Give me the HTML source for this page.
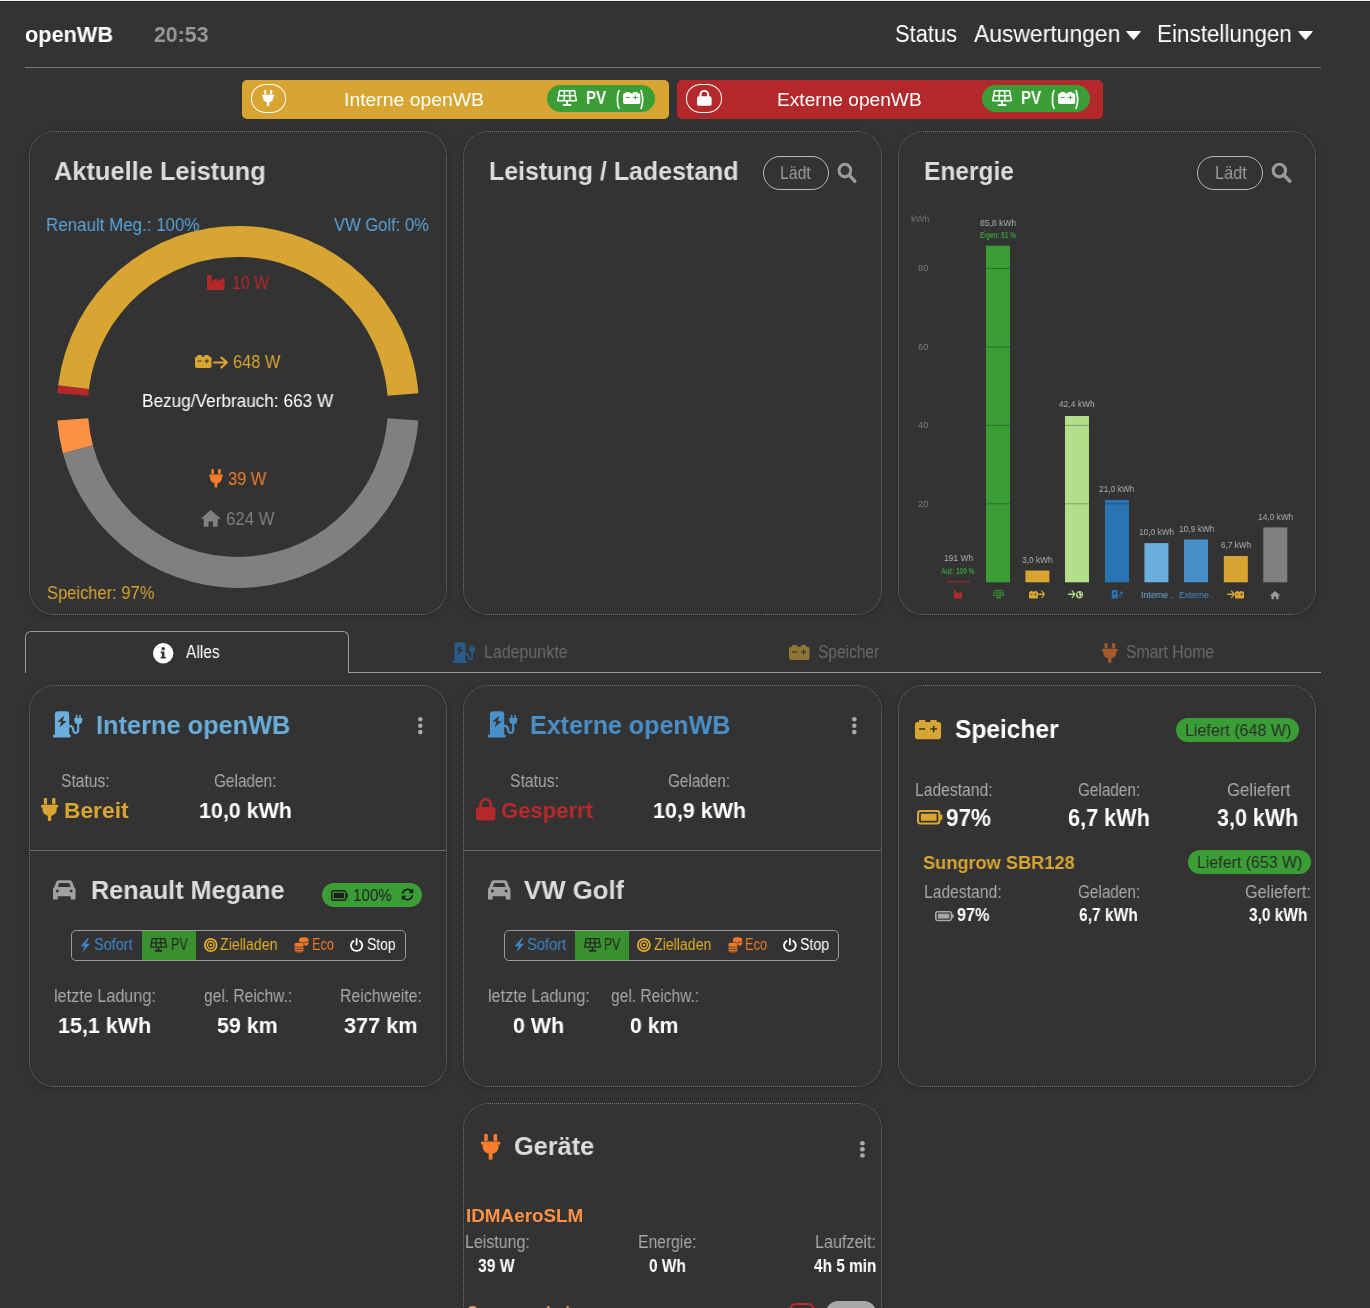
<!DOCTYPE html>
<html lang="de"><head><meta charset="utf-8"><title>openWB</title>
<style>
html,body{margin:0;padding:0;width:1370px;height:1308px;overflow:hidden;background:#333;}
body{position:relative;font-family:"Liberation Sans",sans-serif;}
.t{position:absolute;line-height:1;white-space:nowrap;transform-origin:0 0;will-change:transform;}
.b{position:absolute;box-sizing:content-box;}
.i{position:absolute;overflow:visible;}
.card{position:absolute;border:1px dotted #747474;border-radius:25px;box-shadow:0 2px 6px rgba(0,0,0,.18);}
</style></head><body>
<div class="b" style="left:0px;top:0px;width:1370px;height:1px;background:#f2f4f1"></div>
<div class="b" style="left:0px;top:1px;width:1370px;height:1px;background:#282828"></div>
<span class="t" style="left:25.0px;top:24.0px;font-size:21.80px;font-weight:bold;color:#fff;transform:scaleX(0.995);">openWB</span>
<span class="t" style="left:154.0px;top:24.0px;font-size:21.80px;font-weight:bold;color:#999;transform:scaleX(0.976);">20:53</span>
<span class="t" style="left:895.0px;top:22.0px;font-size:23.98px;color:#fff;transform:scaleX(0.912);">Status</span>
<span class="t" style="left:974.3px;top:22.0px;font-size:23.98px;color:#fff;transform:scaleX(0.955);">Auswertungen</span>
<span class="t" style="left:1157.0px;top:22.0px;font-size:23.98px;color:#fff;transform:scaleX(0.937);">Einstellungen</span>
<svg class="i" style="left:1126.0px;top:30.5px;width:15.0px;height:8.8px;" viewBox="0 0 14 6.8" preserveAspectRatio="none" fill="#fff"><path d="M0.8 0 H13.2 Q14.2 0 13.5 0.8 L7.7 6.4 Q7 7 6.3 6.4 L0.5 0.8 Q-0.2 0 0.8 0 Z"/></svg>
<svg class="i" style="left:1298.0px;top:30.5px;width:15.0px;height:8.8px;" viewBox="0 0 14 6.8" preserveAspectRatio="none" fill="#fff"><path d="M0.8 0 H13.2 Q14.2 0 13.5 0.8 L7.7 6.4 Q7 7 6.3 6.4 L0.5 0.8 Q-0.2 0 0.8 0 Z"/></svg>
<div class="b" style="left:25px;top:67px;width:1296px;height:1px;background:#7a7a7a"></div>
<div class="b" style="left:242px;top:80px;width:427px;height:39px;background:#d8a532;border-radius:5px"></div>
<div class="b" style="left:251px;top:84px;width:33px;height:27px;border:1px solid #fff;border-radius:15px/14px"></div>
<svg class="i" style="left:262.0px;top:90.0px;width:12.3px;height:16.0px;" viewBox="0 0 17.4 23" preserveAspectRatio="none" fill="#fff"><rect x="2.9" y="0" width="3.2" height="6.4" rx="1"/><rect x="11.3" y="0" width="3.3" height="6.4" rx="1"/><rect x="0" y="6.8" width="17.4" height="2.8" rx="1.2"/><path d="M1.5 9 H15.9 V11.2 C15.9 15.3 12.8 17.8 8.7 17.8 C4.6 17.8 1.5 15.3 1.5 11.2 Z"/><rect x="6.9" y="16" width="3.5" height="7" rx="0.9"/></svg>
<span class="t" style="left:344.0px;top:91.0px;font-size:18.60px;color:#fff;transform:scaleX(1.042);">Interne openWB</span>
<div class="b" style="left:547px;top:85px;width:108px;height:27px;background:#3a9d35;border-radius:14px"></div>
<svg class="i" style="left:557.3px;top:89.8px;width:20.1px;height:16.1px;" viewBox="0 0 20 16" preserveAspectRatio="none" fill="#fff"><g fill="none" stroke="#fff" stroke-width="1.5" stroke-linejoin="round"><path d="M2.5 0.75 H17.5 L19.25 10.6 H0.75 Z M1.6 5.7 H18.4 M7.5 0.75 L7 10.6 M12.5 0.75 L13 10.6"/></g><rect x="9.1" y="10.6" width="1.8" height="3.6"/><rect x="5.6" y="13.8" width="8.8" height="2.2" rx="1"/></svg>
<span class="t" style="left:585.5px;top:90.0px;font-size:17.44px;font-weight:bold;color:#fff;transform:scaleX(0.859);">PV</span>
<span class="t" style="left:615.5px;top:89.0px;font-size:19.62px;font-weight:bold;color:#fff;transform:scaleX(0.609);">(</span>
<svg class="i" style="left:622.7px;top:92.0px;width:17.3px;height:11.9px;" viewBox="0 0 26 19.2" preserveAspectRatio="none" fill="#fff"><path d="M4 0.2 Q4 0 4.3 0 H10 Q10.3 0 10.3 0.3 V2.1 H15.3 V0.3 Q15.3 0 15.6 0 H21.3 Q21.6 0 21.6 0.3 V2.1 H23.3 Q26 2.1 26 4.8 V16.5 Q26 19.2 23.3 19.2 H2.7 Q0 19.2 0 16.5 V4.8 Q0 2.1 2.7 2.1 H4 Z"/><rect x="4.1" y="8.2" width="6" height="1.5" fill="#3a9d35"/><rect x="15.3" y="8.2" width="6.6" height="1.5" fill="#3a9d35"/><rect x="17.85" y="5.6" width="1.5" height="6.7" fill="#3a9d35"/></svg>
<span class="t" style="left:640.0px;top:89.0px;font-size:19.62px;font-weight:bold;color:#fff;transform:scaleX(0.609);">)</span>
<div class="b" style="left:677px;top:80px;width:426px;height:39px;background:#b3292b;border-radius:5px"></div>
<div class="b" style="left:686px;top:84px;width:34px;height:27px;border:1px solid #fff;border-radius:15px/14px"></div>
<svg class="i" style="left:696.6px;top:90.0px;width:14.6px;height:15.8px;" viewBox="0 0 16 18.6" preserveAspectRatio="none" fill="#fff"><path fill="none" stroke="#fff" stroke-width="2.2" d="M3.8 9 V5.3 A4.2 4.2 0 0 1 12.2 5.3 V9"/><rect x="0" y="7.4" width="16" height="11.2" rx="2.2"/></svg>
<span class="t" style="left:777.2px;top:91.0px;font-size:18.60px;color:#fff;transform:scaleX(1.029);">Externe openWB</span>
<div class="b" style="left:982px;top:85px;width:108px;height:27px;background:#3a9d35;border-radius:14px"></div>
<svg class="i" style="left:992.3px;top:89.8px;width:20.1px;height:16.1px;" viewBox="0 0 20 16" preserveAspectRatio="none" fill="#fff"><g fill="none" stroke="#fff" stroke-width="1.5" stroke-linejoin="round"><path d="M2.5 0.75 H17.5 L19.25 10.6 H0.75 Z M1.6 5.7 H18.4 M7.5 0.75 L7 10.6 M12.5 0.75 L13 10.6"/></g><rect x="9.1" y="10.6" width="1.8" height="3.6"/><rect x="5.6" y="13.8" width="8.8" height="2.2" rx="1"/></svg>
<span class="t" style="left:1020.5px;top:90.0px;font-size:17.44px;font-weight:bold;color:#fff;transform:scaleX(0.859);">PV</span>
<span class="t" style="left:1050.5px;top:89.0px;font-size:19.62px;font-weight:bold;color:#fff;transform:scaleX(0.609);">(</span>
<svg class="i" style="left:1057.7px;top:92.0px;width:17.3px;height:11.9px;" viewBox="0 0 26 19.2" preserveAspectRatio="none" fill="#fff"><path d="M4 0.2 Q4 0 4.3 0 H10 Q10.3 0 10.3 0.3 V2.1 H15.3 V0.3 Q15.3 0 15.6 0 H21.3 Q21.6 0 21.6 0.3 V2.1 H23.3 Q26 2.1 26 4.8 V16.5 Q26 19.2 23.3 19.2 H2.7 Q0 19.2 0 16.5 V4.8 Q0 2.1 2.7 2.1 H4 Z"/><rect x="4.1" y="8.2" width="6" height="1.5" fill="#3a9d35"/><rect x="15.3" y="8.2" width="6.6" height="1.5" fill="#3a9d35"/><rect x="17.85" y="5.6" width="1.5" height="6.7" fill="#3a9d35"/></svg>
<span class="t" style="left:1075.0px;top:89.0px;font-size:19.62px;font-weight:bold;color:#fff;transform:scaleX(0.609);">)</span>
<div class="card" style="left:29px;top:131px;width:416px;height:482px"></div>
<div class="card" style="left:463px;top:131px;width:417px;height:482px"></div>
<div class="card" style="left:898px;top:131px;width:416px;height:482px"></div>
<span class="t" style="left:54.0px;top:158.0px;font-size:26.45px;font-weight:bold;color:#dcdcdc;transform:scaleX(0.961);">Aktuelle Leistung</span>
<svg class="i" style="left:0;top:0;width:1370px;height:700px" viewBox="0 0 1370 700"><path fill="#b3292b" d="M57.41 393.33 A181 181 0 0 1 58.21 385.16 L88.99 388.88 A150 150 0 0 0 88.32 395.65 Z"/><path fill="#d8a532" d="M58.21 385.16 A181 181 0 0 1 418.39 393.33 L387.48 395.65 A150 150 0 0 0 88.99 388.88 Z"/><path fill="#808080" d="M418.39 420.47 A181 181 0 0 1 62.90 453.14 L92.88 445.22 A150 150 0 0 0 387.48 418.15 Z"/><path fill="#fd9144" d="M62.90 453.14 A181 181 0 0 1 57.41 420.47 L88.32 418.15 A150 150 0 0 0 92.88 445.22 Z"/></svg>
<span class="t" style="left:46.0px;top:217.0px;font-size:17.88px;color:#5aa2d8;transform:scaleX(0.948);">Renault Meg.: 100%</span>
<span class="t" style="left:334.0px;top:217.0px;font-size:17.88px;color:#5aa2d8;transform:scaleX(0.928);">VW Golf: 0%</span>
<svg class="i" style="left:207.4px;top:274.9px;width:17.5px;height:15.1px;" viewBox="0 0 16.8 15" preserveAspectRatio="none" fill="#b3292b"><path d="M0.6 0 H4.4 V6.2 L9.6 3.1 V6.2 L16.8 2.6 V14.2 Q16.8 15 16 15 H1 Q0 15 0 14 V0.6 Q0 0 0.6 0 Z"/></svg>
<span class="t" style="left:232.0px;top:275.0px;font-size:17.44px;color:#b3292b;transform:scaleX(0.908);">10 W</span>
<svg class="i" style="left:195.0px;top:355.0px;width:16.5px;height:13.0px;" viewBox="0 0 26 19.2" preserveAspectRatio="none" fill="#d8a532"><path d="M4 0.2 Q4 0 4.3 0 H10 Q10.3 0 10.3 0.3 V2.1 H15.3 V0.3 Q15.3 0 15.6 0 H21.3 Q21.6 0 21.6 0.3 V2.1 H23.3 Q26 2.1 26 4.8 V16.5 Q26 19.2 23.3 19.2 H2.7 Q0 19.2 0 16.5 V4.8 Q0 2.1 2.7 2.1 H4 Z"/><rect x="4.1" y="8.2" width="6" height="1.5" fill="#333"/><rect x="15.3" y="8.2" width="6.6" height="1.5" fill="#333"/><rect x="17.85" y="5.6" width="1.5" height="6.7" fill="#333"/></svg>
<svg class="i" style="left:212.5px;top:355.5px;width:15.0px;height:13.0px;" viewBox="0 0 13.5 13" preserveAspectRatio="none" fill="#d8a532"><g fill="none" stroke="#d8a532" stroke-width="2" stroke-linecap="round" stroke-linejoin="round"><path d="M1 6.5 H12.5 M7.5 1.5 L12.5 6.5 L7.5 11.5"/></g></svg>
<span class="t" style="left:232.7px;top:354.0px;font-size:17.44px;color:#d8a532;transform:scaleX(0.938);">648 W</span>
<span class="t" style="left:142.4px;top:393.0px;font-size:17.44px;color:#fff;transform:scaleX(0.986);">Bezug/Verbrauch: 663 W</span>
<svg class="i" style="left:209.0px;top:469.0px;width:14.0px;height:18.5px;" viewBox="0 0 17.4 23" preserveAspectRatio="none" fill="#f57d2c"><rect x="2.9" y="0" width="3.2" height="6.4" rx="1"/><rect x="11.3" y="0" width="3.3" height="6.4" rx="1"/><rect x="0" y="6.8" width="17.4" height="2.8" rx="1.2"/><path d="M1.5 9 H15.9 V11.2 C15.9 15.3 12.8 17.8 8.7 17.8 C4.6 17.8 1.5 15.3 1.5 11.2 Z"/><rect x="6.9" y="16" width="3.5" height="7" rx="0.9"/></svg>
<span class="t" style="left:227.5px;top:471.0px;font-size:17.44px;color:#f57d2c;transform:scaleX(0.938);">39 W</span>
<svg class="i" style="left:201.0px;top:510.4px;width:19.4px;height:16.8px;" viewBox="0 0 19.4 16.8" preserveAspectRatio="none" fill="#808080"><path d="M9.7 0 L19.4 8.4 L18.3 9.6 L16.7 8.3 V16.8 H11.9 V11.6 H7.5 V16.8 H2.7 V8.3 L1.1 9.6 L0 8.4 Z"/></svg>
<span class="t" style="left:225.6px;top:511.0px;font-size:17.44px;color:#808080;transform:scaleX(0.960);">624 W</span>
<span class="t" style="left:46.5px;top:585.0px;font-size:17.44px;color:#d8a532;transform:scaleX(0.947);">Speicher: 97%</span>
<span class="t" style="left:489.4px;top:158.0px;font-size:26.45px;font-weight:bold;color:#dcdcdc;transform:scaleX(0.944);">Leistung / Ladestand</span>
<div class="b" style="left:763px;top:156px;width:64px;height:32px;border:1px solid #bbb;border-radius:17px"></div>
<span class="t" style="left:780.0px;top:165.0px;font-size:17.44px;color:#9a9a9a;transform:scaleX(0.908);">Lädt</span>
<svg class="i" style="left:837.1px;top:161.5px;width:19.3px;height:19.7px;" viewBox="0 0 19.5 18.5" preserveAspectRatio="none" fill="#9a9a9a"><circle cx="8" cy="8" r="5.9" fill="none" stroke="#9a9a9a" stroke-width="3"/><path d="M12.2 12.2 L18 18" stroke="#9a9a9a" stroke-width="3.4" stroke-linecap="round"/></svg>
<span class="t" style="left:924.0px;top:158.0px;font-size:26.45px;font-weight:bold;color:#dcdcdc;transform:scaleX(0.927);">Energie</span>
<div class="b" style="left:1197px;top:156px;width:64px;height:32px;border:1px solid #bbb;border-radius:17px"></div>
<span class="t" style="left:1214.6px;top:165.0px;font-size:17.44px;color:#9a9a9a;transform:scaleX(0.937);">Lädt</span>
<svg class="i" style="left:1271.4px;top:161.5px;width:20.4px;height:19.7px;" viewBox="0 0 19.5 18.5" preserveAspectRatio="none" fill="#9a9a9a"><circle cx="8" cy="8" r="5.9" fill="none" stroke="#9a9a9a" stroke-width="3"/><path d="M12.2 12.2 L18 18" stroke="#9a9a9a" stroke-width="3.4" stroke-linecap="round"/></svg>
<svg class="i" style="left:0;top:0;width:1370px;height:700px" viewBox="0 0 1370 700"><rect x="946" y="581.3" width="24" height="1.0" fill="#b3292b"/><rect x="986" y="245.7" width="24" height="336.6" fill="#3a9d35"/><rect x="1025.4" y="570.5" width="24" height="11.8" fill="#d8a532"/><rect x="1065" y="416.0" width="24" height="166.3" fill="#b3df8b"/><rect x="1105" y="499.9" width="24" height="82.4" fill="#2a74b3"/><rect x="1144.4" y="543.1" width="24" height="39.2" fill="#6aaedb"/><rect x="1184" y="539.5" width="24" height="42.8" fill="#4a90c8"/><rect x="1223.8" y="556.0" width="24" height="26.3" fill="#d8a532"/><rect x="1263.3" y="527.4" width="24" height="54.9" fill="#808080"/><rect x="986" y="503.3" width="24" height="1" fill="#000" fill-opacity="0.28"/><rect x="1065" y="503.3" width="24" height="1" fill="#000" fill-opacity="0.28"/><rect x="1105" y="503.3" width="24" height="1" fill="#000" fill-opacity="0.28"/><rect x="986" y="424.9" width="24" height="1" fill="#000" fill-opacity="0.28"/><rect x="1065" y="424.9" width="24" height="1" fill="#000" fill-opacity="0.28"/><rect x="986" y="346.4" width="24" height="1" fill="#000" fill-opacity="0.28"/><rect x="986" y="268.0" width="24" height="1" fill="#000" fill-opacity="0.28"/></svg>
<span class="t" style="left:917.7px;top:264.0px;font-size:9.30px;color:#7c7c7c;transform:scaleX(0.998);">80</span>
<span class="t" style="left:917.7px;top:343.0px;font-size:9.30px;color:#7c7c7c;transform:scaleX(0.998);">60</span>
<span class="t" style="left:917.7px;top:421.0px;font-size:9.30px;color:#7c7c7c;transform:scaleX(0.998);">40</span>
<span class="t" style="left:917.7px;top:500.0px;font-size:9.30px;color:#7c7c7c;transform:scaleX(0.998);">20</span>
<span class="t" style="left:911.0px;top:214.0px;font-size:9.88px;color:#747474;transform:scaleX(0.931);">kWh</span>
<span class="t" style="left:943.8px;top:553.0px;font-size:9.88px;color:#b0b0b0;transform:scaleX(0.858);">191 Wh</span>
<span class="t" style="left:979.8px;top:218.0px;font-size:9.88px;color:#b0b0b0;transform:scaleX(0.864);">85,8 kWh</span>
<span class="t" style="left:1022.3px;top:555.0px;font-size:9.88px;color:#b0b0b0;transform:scaleX(0.846);">3,0 kWh</span>
<span class="t" style="left:1059.4px;top:399.0px;font-size:9.88px;color:#b0b0b0;transform:scaleX(0.853);">42,4 kWh</span>
<span class="t" style="left:1098.8px;top:484.0px;font-size:9.88px;color:#b0b0b0;transform:scaleX(0.843);">21,0 kWh</span>
<span class="t" style="left:1139.0px;top:527.0px;font-size:9.88px;color:#b0b0b0;transform:scaleX(0.838);">10,0 kWh</span>
<span class="t" style="left:1178.5px;top:524.0px;font-size:9.88px;color:#b0b0b0;transform:scaleX(0.845);">10,9 kWh</span>
<span class="t" style="left:1220.7px;top:540.0px;font-size:9.88px;color:#b0b0b0;transform:scaleX(0.833);">6,7 kWh</span>
<span class="t" style="left:1257.8px;top:512.0px;font-size:9.88px;color:#b0b0b0;transform:scaleX(0.843);">14,0 kWh</span>
<span class="t" style="left:980.0px;top:231.0px;font-size:8.43px;font-weight:bold;color:#3a9d35;transform:scaleX(0.761);">Eigen: 51 %</span>
<span class="t" style="left:941.4px;top:567.0px;font-size:8.43px;font-weight:bold;color:#3a9d35;transform:scaleX(0.780);">Aut: 100 %</span>
<svg class="i" style="left:954.0px;top:590.3px;width:8.0px;height:8.5px;" viewBox="0 0 16.8 15" preserveAspectRatio="none" fill="#b3292b"><path d="M0.6 0 H4.4 V6.2 L9.6 3.1 V6.2 L16.8 2.6 V14.2 Q16.8 15 16 15 H1 Q0 15 0 14 V0.6 Q0 0 0.6 0 Z"/></svg>
<svg class="i" style="left:993.0px;top:590.3px;width:11.0px;height:8.5px;" viewBox="0 0 20 16" preserveAspectRatio="none" fill="#3a9d35"><g fill="none" stroke="#3a9d35" stroke-width="1.5" stroke-linejoin="round"><path d="M2.5 0.75 H17.5 L19.25 10.6 H0.75 Z M1.6 5.7 H18.4 M7.5 0.75 L7 10.6 M12.5 0.75 L13 10.6"/></g><rect x="9.1" y="10.6" width="1.8" height="3.6"/><rect x="5.6" y="13.8" width="8.8" height="2.2" rx="1"/></svg>
<svg class="i" style="left:1029.0px;top:591.0px;width:9.0px;height:7.5px;" viewBox="0 0 26 19.2" preserveAspectRatio="none" fill="#d8a532"><path d="M4 0.2 Q4 0 4.3 0 H10 Q10.3 0 10.3 0.3 V2.1 H15.3 V0.3 Q15.3 0 15.6 0 H21.3 Q21.6 0 21.6 0.3 V2.1 H23.3 Q26 2.1 26 4.8 V16.5 Q26 19.2 23.3 19.2 H2.7 Q0 19.2 0 16.5 V4.8 Q0 2.1 2.7 2.1 H4 Z"/><rect x="4.1" y="8.2" width="6" height="1.5" fill="#333"/><rect x="15.3" y="8.2" width="6.6" height="1.5" fill="#333"/><rect x="17.85" y="5.6" width="1.5" height="6.7" fill="#333"/></svg>
<svg class="i" style="left:1038.0px;top:590.3px;width:7.0px;height:8.5px;" viewBox="0 0 13.5 13" preserveAspectRatio="none" fill="#d8a532"><g fill="none" stroke="#d8a532" stroke-width="2" stroke-linecap="round" stroke-linejoin="round"><path d="M1 6.5 H12.5 M7.5 1.5 L12.5 6.5 L7.5 11.5"/></g></svg>
<svg class="i" style="left:1068.0px;top:590.3px;width:7.5px;height:8.5px;" viewBox="0 0 13.5 13" preserveAspectRatio="none" fill="#b3df8b"><g fill="none" stroke="#b3df8b" stroke-width="2" stroke-linecap="round" stroke-linejoin="round"><path d="M1 6.5 H12.5 M7.5 1.5 L12.5 6.5 L7.5 11.5"/></g></svg>
<svg class="i" style="left:1076.0px;top:590.8px;width:7.0px;height:7.5px;" viewBox="0 0 12 12" preserveAspectRatio="none" fill="#b3df8b"><circle cx="6" cy="6" r="6"/><path fill="#333" d="M3 2.5 Q5 2 5.5 4 Q4.5 5.5 6 6.5 Q7 8 5.5 10.5 Q3.5 9 3.5 7 Q2 6 2.2 4 Z M8 1.5 Q9.8 2.5 10.5 4.5 Q9 5 8.5 4 Z M8.3 7.5 Q10 7 10.6 8 Q9.8 10 8.3 10.5 Z"/></svg>
<svg class="i" style="left:1111.0px;top:590.3px;width:12.0px;height:8.5px;" viewBox="0 0 29.4 25.5" preserveAspectRatio="none" fill="#2a74b3"><rect x="0" y="22.6" width="17.7" height="2.9" rx="1.2"/><path d="M1.9 3.3 Q1.9 0.2 5 0.2 H13.1 Q16.2 0.2 16.2 3.3 V23.5 H1.9 Z"/><path fill="#333" d="M11.2 4.6 L4.3 10.4 H8.4 L6.6 15.6 L13.9 9.6 H9.7 Z"/><path fill="none" stroke="#2a74b3" stroke-width="2.1" d="M16 14.2 C19 14.2 20.3 15.8 20.3 18.5 C20.3 21.8 25.2 22 25.2 18.5 V11.8"/><path d="M21.2 6.8 H29.4 V8.6 C29.4 11 27.6 12.8 25.3 12.8 C23 12.8 21.2 11 21.2 8.6 Z"/><rect x="22.8" y="3.6" width="1.6" height="4" rx=".7"/><rect x="26.2" y="3.6" width="1.6" height="4" rx=".7"/></svg>
<span class="t" style="left:1140.5px;top:591.0px;font-size:9.01px;color:#6aaedb;transform:scaleX(0.965);">Interne .</span>
<span class="t" style="left:1178.5px;top:591.0px;font-size:9.01px;color:#4a90c8;transform:scaleX(0.957);">Externe .</span>
<svg class="i" style="left:1227.0px;top:590.3px;width:8.0px;height:8.5px;" viewBox="0 0 13.5 13" preserveAspectRatio="none" fill="#d8a532"><g fill="none" stroke="#d8a532" stroke-width="2" stroke-linecap="round" stroke-linejoin="round"><path d="M1 6.5 H12.5 M7.5 1.5 L12.5 6.5 L7.5 11.5"/></g></svg>
<svg class="i" style="left:1235.0px;top:591.0px;width:9.0px;height:7.5px;" viewBox="0 0 26 19.2" preserveAspectRatio="none" fill="#d8a532"><path d="M4 0.2 Q4 0 4.3 0 H10 Q10.3 0 10.3 0.3 V2.1 H15.3 V0.3 Q15.3 0 15.6 0 H21.3 Q21.6 0 21.6 0.3 V2.1 H23.3 Q26 2.1 26 4.8 V16.5 Q26 19.2 23.3 19.2 H2.7 Q0 19.2 0 16.5 V4.8 Q0 2.1 2.7 2.1 H4 Z"/><rect x="4.1" y="8.2" width="6" height="1.5" fill="#333"/><rect x="15.3" y="8.2" width="6.6" height="1.5" fill="#333"/><rect x="17.85" y="5.6" width="1.5" height="6.7" fill="#333"/></svg>
<svg class="i" style="left:1270.0px;top:590.5px;width:10.0px;height:8.3px;" viewBox="0 0 19.4 16.8" preserveAspectRatio="none" fill="#999"><path d="M9.7 0 L19.4 8.4 L18.3 9.6 L16.7 8.3 V16.8 H11.9 V11.6 H7.5 V16.8 H2.7 V8.3 L1.1 9.6 L0 8.4 Z"/></svg>
<div class="b" style="left:25px;top:631px;width:322px;height:41px;border:1px solid #999;border-bottom:none;border-radius:6px 6px 0 0"></div>
<div class="b" style="left:348px;top:672px;width:973px;height:1px;background:#999"></div>
<svg class="i" style="left:153.0px;top:642.5px;width:20.4px;height:20.4px;" viewBox="0 0 20 20" preserveAspectRatio="none" fill="#fff"><circle cx="10" cy="10" r="10"/><circle cx="10" cy="5.6" r="1.7" fill="#333"/><path fill="#333" d="M7.6 8.4 H11.2 V13.4 H12.5 V15.2 H7.5 V13.4 H8.8 V10.2 H7.6 Z"/></svg>
<span class="t" style="left:185.7px;top:643.0px;font-size:18.60px;color:#fff;transform:scaleX(0.835);">Alles</span>
<svg class="i" style="left:452.6px;top:641.7px;width:22.4px;height:21.0px;" viewBox="0 0 29.4 25.5" preserveAspectRatio="none" fill="#2b5b88"><rect x="0" y="22.6" width="17.7" height="2.9" rx="1.2"/><path d="M1.9 3.3 Q1.9 0.2 5 0.2 H13.1 Q16.2 0.2 16.2 3.3 V23.5 H1.9 Z"/><path fill="#333" d="M11.2 4.6 L4.3 10.4 H8.4 L6.6 15.6 L13.9 9.6 H9.7 Z"/><path fill="none" stroke="#2b5b88" stroke-width="2.1" d="M16 14.2 C19 14.2 20.3 15.8 20.3 18.5 C20.3 21.8 25.2 22 25.2 18.5 V11.8"/><path d="M21.2 6.8 H29.4 V8.6 C29.4 11 27.6 12.8 25.3 12.8 C23 12.8 21.2 11 21.2 8.6 Z"/><rect x="22.8" y="3.6" width="1.6" height="4" rx=".7"/><rect x="26.2" y="3.6" width="1.6" height="4" rx=".7"/></svg>
<span class="t" style="left:483.8px;top:643.0px;font-size:18.02px;color:#6a6a6a;transform:scaleX(0.887);">Ladepunkte</span>
<svg class="i" style="left:789.3px;top:645.0px;width:20.5px;height:15.0px;" viewBox="0 0 26 19.2" preserveAspectRatio="none" fill="#8f7434"><path d="M4 0.2 Q4 0 4.3 0 H10 Q10.3 0 10.3 0.3 V2.1 H15.3 V0.3 Q15.3 0 15.6 0 H21.3 Q21.6 0 21.6 0.3 V2.1 H23.3 Q26 2.1 26 4.8 V16.5 Q26 19.2 23.3 19.2 H2.7 Q0 19.2 0 16.5 V4.8 Q0 2.1 2.7 2.1 H4 Z"/><rect x="4.1" y="8.2" width="6" height="1.5" fill="#333"/><rect x="15.3" y="8.2" width="6.6" height="1.5" fill="#333"/><rect x="17.85" y="5.6" width="1.5" height="6.7" fill="#333"/></svg>
<span class="t" style="left:817.7px;top:643.0px;font-size:18.02px;color:#6a6a6a;transform:scaleX(0.862);">Speicher</span>
<svg class="i" style="left:1101.9px;top:642.6px;width:15.6px;height:19.8px;" viewBox="0 0 17.4 23" preserveAspectRatio="none" fill="#a65a2b"><rect x="2.9" y="0" width="3.2" height="6.4" rx="1"/><rect x="11.3" y="0" width="3.3" height="6.4" rx="1"/><rect x="0" y="6.8" width="17.4" height="2.8" rx="1.2"/><path d="M1.5 9 H15.9 V11.2 C15.9 15.3 12.8 17.8 8.7 17.8 C4.6 17.8 1.5 15.3 1.5 11.2 Z"/><rect x="6.9" y="16" width="3.5" height="7" rx="0.9"/></svg>
<span class="t" style="left:1125.6px;top:643.0px;font-size:18.02px;color:#6a6a6a;transform:scaleX(0.873);">Smart Home</span>
<div class="card" style="left:29px;top:685px;width:416px;height:400px"></div>
<div class="card" style="left:463px;top:685px;width:417px;height:400px"></div>
<div class="card" style="left:898px;top:685px;width:416px;height:400px"></div>
<div class="card" style="left:463px;top:1103px;width:417px;height:296px"></div>
<svg class="i" style="left:53.2px;top:711.0px;width:29.4px;height:26.6px;" viewBox="0 0 29.4 25.5" preserveAspectRatio="none" fill="#6aaedb"><rect x="0" y="22.6" width="17.7" height="2.9" rx="1.2"/><path d="M1.9 3.3 Q1.9 0.2 5 0.2 H13.1 Q16.2 0.2 16.2 3.3 V23.5 H1.9 Z"/><path fill="#333" d="M11.2 4.6 L4.3 10.4 H8.4 L6.6 15.6 L13.9 9.6 H9.7 Z"/><path fill="none" stroke="#6aaedb" stroke-width="2.1" d="M16 14.2 C19 14.2 20.3 15.8 20.3 18.5 C20.3 21.8 25.2 22 25.2 18.5 V11.8"/><path d="M21.2 6.8 H29.4 V8.6 C29.4 11 27.6 12.8 25.3 12.8 C23 12.8 21.2 11 21.2 8.6 Z"/><rect x="22.8" y="3.6" width="1.6" height="4" rx=".7"/><rect x="26.2" y="3.6" width="1.6" height="4" rx=".7"/></svg>
<span class="t" style="left:95.5px;top:712.0px;font-size:26.45px;font-weight:bold;color:#6aaedb;transform:scaleX(0.959);">Interne openWB</span>
<svg class="i" style="left:417.7px;top:717.2px;width:4.6px;height:17.4px;" viewBox="0 0 4.6 17.4" preserveAspectRatio="none" fill="#aaa"><circle cx="2.3" cy="2.3" r="2.3"/><circle cx="2.3" cy="8.7" r="2.3"/><circle cx="2.3" cy="15.1" r="2.3"/></svg>
<span class="t" style="left:60.8px;top:773.0px;font-size:17.44px;color:#a8a8a8;transform:scaleX(0.894);">Status:</span>
<span class="t" style="left:214.0px;top:773.0px;font-size:17.44px;color:#a8a8a8;transform:scaleX(0.881);">Geladen:</span>
<svg class="i" style="left:41.3px;top:797.9px;width:17.2px;height:23.0px;" viewBox="0 0 17.4 23" preserveAspectRatio="none" fill="#d8a532"><rect x="2.9" y="0" width="3.2" height="6.4" rx="1"/><rect x="11.3" y="0" width="3.3" height="6.4" rx="1"/><rect x="0" y="6.8" width="17.4" height="2.8" rx="1.2"/><path d="M1.5 9 H15.9 V11.2 C15.9 15.3 12.8 17.8 8.7 17.8 C4.6 17.8 1.5 15.3 1.5 11.2 Z"/><rect x="6.9" y="16" width="3.5" height="7" rx="0.9"/></svg>
<span class="t" style="left:64.2px;top:800.0px;font-size:22.38px;font-weight:bold;color:#d8a532;transform:scaleX(1.018);">Bereit</span>
<span class="t" style="left:198.7px;top:800.0px;font-size:22.38px;font-weight:bold;color:#fff;transform:scaleX(0.958);">10,0 kWh</span>
<div class="b" style="left:29px;top:850px;width:417px;height:1px;background:#6a6a6a"></div>
<svg class="i" style="left:53.3px;top:880.0px;width:22.5px;height:19.6px;" viewBox="0 0 22.5 19.6" preserveAspectRatio="none" fill="#a0a0a0"><path fill-rule="evenodd" d="M5.6 0.2 H16.9 Q18.6 0.2 19.3 1.9 L21.1 6.9 Q22.5 7.8 22.5 9.6 V19.4 H17.8 V16.3 H4.7 V19.4 H0 V9.6 Q0 7.8 1.4 6.9 L3.2 1.9 Q3.9 0.2 5.6 0.2 Z M6.3 2.9 L4.7 7.1 H17.8 L16.2 2.9 Z"/><circle cx="4.4" cy="11" r="1.5" fill="#333"/><circle cx="18.1" cy="11" r="1.5" fill="#333"/></svg>
<span class="t" style="left:91.0px;top:877.0px;font-size:26.45px;font-weight:bold;color:#dcdcdc;transform:scaleX(0.955);">Renault Megane</span>
<div class="b" style="left:321.8px;top:883.4px;width:100.7px;height:23.3px;background:#3a9d35;border-radius:12px"></div>
<svg class="i" style="left:330.5px;top:889.5px;width:16.9px;height:11.0px;" viewBox="0 0 23.4 14" preserveAspectRatio="none" fill="#1f1f1f"><rect x="1" y="1" width="19.6" height="12" rx="2.2" fill="none" stroke="#1f1f1f" stroke-width="2"/><rect x="3.6" y="3.6" width="14.4" height="6.8" fill="#1f1f1f"/><rect x="21" y="4.3" width="2.4" height="5.4" rx="0.8"/></svg>
<span class="t" style="left:353.0px;top:887.0px;font-size:17.01px;color:#222;transform:scaleX(0.891);">100%</span>
<svg class="i" style="left:401.0px;top:888.0px;width:13.0px;height:13.0px;" viewBox="0 0 14 14" preserveAspectRatio="none" fill="#1f1f1f"><g fill="none" stroke="#1f1f1f" stroke-width="1.9"><path d="M1.8 6.2 A5.3 5.3 0 0 1 11.3 3.6"/><path d="M12.2 7.8 A5.3 5.3 0 0 1 2.7 10.4"/></g><path d="M13.2 0.6 V5.6 H8.2 Z"/><path d="M0.8 13.4 V8.4 H5.8 Z"/></svg>
<div class="b" style="left:71px;top:930px;width:333px;height:29px;border:1px solid #9a9a9a;border-radius:5px;overflow:hidden"></div>
<div class="b" style="left:142.2px;top:931px;width:53.400000000000006px;height:29px;background:#39902f"></div>
<svg class="i" style="left:80.2px;top:937.7px;width:10.4px;height:14.2px;" viewBox="0 0 11 16" preserveAspectRatio="none" fill="#3b86c8"><path d="M8.3 0 L0.6 9.3 H4.9 L2.6 16 L10.5 6.6 H6.2 L9.6 0 Z"/></svg>
<span class="t" style="left:94.0px;top:937.0px;font-size:15.84px;color:#3b86c8;transform:scaleX(0.917);">Sofort</span>
<svg class="i" style="left:150.0px;top:938.2px;width:17.1px;height:13.7px;" viewBox="0 0 20 16" preserveAspectRatio="none" fill="#262626"><g fill="none" stroke="#262626" stroke-width="1.5" stroke-linejoin="round"><path d="M2.5 0.75 H17.5 L19.25 10.6 H0.75 Z M1.6 5.7 H18.4 M7.5 0.75 L7 10.6 M12.5 0.75 L13 10.6"/></g><rect x="9.1" y="10.6" width="1.8" height="3.6"/><rect x="5.6" y="13.8" width="8.8" height="2.2" rx="1"/></svg>
<span class="t" style="left:170.5px;top:937.0px;font-size:15.84px;color:#262626;transform:scaleX(0.799);">PV</span>
<svg class="i" style="left:203.5px;top:938.3px;width:13.5px;height:14.0px;" viewBox="0 0 14 14" preserveAspectRatio="none" fill="#e2ad2a"><g fill="none" stroke="#e2ad2a"><circle cx="7" cy="7" r="6.1" stroke-width="1.8"/><circle cx="7" cy="7" r="3.4" stroke-width="1.5"/></g><circle cx="7" cy="7" r="1.3"/></svg>
<span class="t" style="left:220.4px;top:937.0px;font-size:15.84px;color:#e2ad2a;transform:scaleX(0.895);">Zielladen</span>
<svg class="i" style="left:294.0px;top:937.3px;width:14.6px;height:16.0px;" viewBox="0 0 15 16" preserveAspectRatio="none" fill="#f07a28"><ellipse cx="10" cy="2.6" rx="4.8" ry="2.3"/><path d="M5.2 2.6 V6.5 A4.8 2.3 0 0 0 14.8 6.5 V2.6 Z"/><path d="M0 7.6 A5.2 2.4 0 0 1 10.4 7.6 V13.6 A5.2 2.4 0 0 1 0 13.6 Z" stroke="#333" stroke-width="0.8"/><path fill="none" stroke="#333" stroke-width="0.8" d="M0 10.2 A5.2 2.4 0 0 0 10.4 10.2 M0 12.6 A5.2 2.4 0 0 0 10.4 12.6 M0 7.9 A5.2 2.4 0 0 0 10.4 7.9 M10.4 5.5 A4.8 2.3 0 0 0 14.8 4.5"/></svg>
<span class="t" style="left:311.5px;top:937.0px;font-size:15.84px;color:#f07a28;transform:scaleX(0.801);">Eco</span>
<svg class="i" style="left:350.0px;top:937.7px;width:13.2px;height:13.3px;" viewBox="0 0 14 14.5" preserveAspectRatio="none" fill="#fff"><g fill="none" stroke="#fff" stroke-width="1.9" stroke-linecap="round"><path d="M3.6 3.2 A6 6 0 1 0 10.4 3.2"/><path d="M7 1 V7.2"/></g></svg>
<span class="t" style="left:367.0px;top:937.0px;font-size:15.84px;color:#fff;transform:scaleX(0.878);">Stop</span>
<span class="t" style="left:54.0px;top:988.0px;font-size:17.44px;color:#a8a8a8;transform:scaleX(0.930);">letzte Ladung:</span>
<span class="t" style="left:203.5px;top:988.0px;font-size:17.44px;color:#a8a8a8;transform:scaleX(0.892);">gel. Reichw.:</span>
<span class="t" style="left:339.9px;top:988.0px;font-size:17.44px;color:#a8a8a8;transform:scaleX(0.909);">Reichweite:</span>
<span class="t" style="left:58.4px;top:1015.0px;font-size:22.53px;font-weight:bold;color:#fff;transform:scaleX(0.956);">15,1 kWh</span>
<span class="t" style="left:217.2px;top:1015.0px;font-size:22.53px;font-weight:bold;color:#fff;transform:scaleX(0.952);">59 km</span>
<span class="t" style="left:343.6px;top:1015.0px;font-size:22.53px;font-weight:bold;color:#fff;transform:scaleX(0.964);">377 km</span>
<svg class="i" style="left:487.7px;top:711.0px;width:29.4px;height:26.6px;" viewBox="0 0 29.4 25.5" preserveAspectRatio="none" fill="#4a90c8"><rect x="0" y="22.6" width="17.7" height="2.9" rx="1.2"/><path d="M1.9 3.3 Q1.9 0.2 5 0.2 H13.1 Q16.2 0.2 16.2 3.3 V23.5 H1.9 Z"/><path fill="#333" d="M11.2 4.6 L4.3 10.4 H8.4 L6.6 15.6 L13.9 9.6 H9.7 Z"/><path fill="none" stroke="#4a90c8" stroke-width="2.1" d="M16 14.2 C19 14.2 20.3 15.8 20.3 18.5 C20.3 21.8 25.2 22 25.2 18.5 V11.8"/><path d="M21.2 6.8 H29.4 V8.6 C29.4 11 27.6 12.8 25.3 12.8 C23 12.8 21.2 11 21.2 8.6 Z"/><rect x="22.8" y="3.6" width="1.6" height="4" rx=".7"/><rect x="26.2" y="3.6" width="1.6" height="4" rx=".7"/></svg>
<span class="t" style="left:530.0px;top:712.0px;font-size:26.45px;font-weight:bold;color:#4a90c8;transform:scaleX(0.947);">Externe openWB</span>
<svg class="i" style="left:852.2px;top:717.2px;width:4.6px;height:17.4px;" viewBox="0 0 4.6 17.4" preserveAspectRatio="none" fill="#aaa"><circle cx="2.3" cy="2.3" r="2.3"/><circle cx="2.3" cy="8.7" r="2.3"/><circle cx="2.3" cy="15.1" r="2.3"/></svg>
<span class="t" style="left:510.0px;top:773.0px;font-size:17.44px;color:#a8a8a8;transform:scaleX(0.902);">Status:</span>
<span class="t" style="left:667.8px;top:773.0px;font-size:17.44px;color:#a8a8a8;transform:scaleX(0.876);">Geladen:</span>
<svg class="i" style="left:475.6px;top:798.2px;width:19.4px;height:22.5px;" viewBox="0 0 16 18.6" preserveAspectRatio="none" fill="#b3292b"><path fill="none" stroke="#b3292b" stroke-width="2.2" d="M3.8 9 V5.3 A4.2 4.2 0 0 1 12.2 5.3 V9"/><rect x="0" y="7.4" width="16" height="11.2" rx="2.2"/></svg>
<span class="t" style="left:501.4px;top:800.0px;font-size:22.38px;font-weight:bold;color:#b92a2c;transform:scaleX(0.986);">Gesperrt</span>
<span class="t" style="left:652.5px;top:800.0px;font-size:22.38px;font-weight:bold;color:#fff;transform:scaleX(0.960);">10,9 kWh</span>
<div class="b" style="left:463.5px;top:850px;width:417px;height:1px;background:#6a6a6a"></div>
<svg class="i" style="left:487.8px;top:880.0px;width:22.5px;height:19.6px;" viewBox="0 0 22.5 19.6" preserveAspectRatio="none" fill="#a0a0a0"><path fill-rule="evenodd" d="M5.6 0.2 H16.9 Q18.6 0.2 19.3 1.9 L21.1 6.9 Q22.5 7.8 22.5 9.6 V19.4 H17.8 V16.3 H4.7 V19.4 H0 V9.6 Q0 7.8 1.4 6.9 L3.2 1.9 Q3.9 0.2 5.6 0.2 Z M6.3 2.9 L4.7 7.1 H17.8 L16.2 2.9 Z"/><circle cx="4.4" cy="11" r="1.5" fill="#333"/><circle cx="18.1" cy="11" r="1.5" fill="#333"/></svg>
<span class="t" style="left:524.4px;top:877.0px;font-size:26.45px;font-weight:bold;color:#dcdcdc;transform:scaleX(0.974);">VW Golf</span>
<div class="b" style="left:504px;top:930px;width:333px;height:29px;border:1px solid #9a9a9a;border-radius:5px;overflow:hidden"></div>
<div class="b" style="left:575px;top:931px;width:53.60000000000002px;height:29px;background:#39902f"></div>
<svg class="i" style="left:513.7px;top:937.7px;width:10.4px;height:14.2px;" viewBox="0 0 11 16" preserveAspectRatio="none" fill="#3b86c8"><path d="M8.3 0 L0.6 9.3 H4.9 L2.6 16 L10.5 6.6 H6.2 L9.6 0 Z"/></svg>
<span class="t" style="left:527.4px;top:937.0px;font-size:15.84px;color:#3b86c8;transform:scaleX(0.929);">Sofort</span>
<svg class="i" style="left:583.5px;top:938.2px;width:17.1px;height:13.7px;" viewBox="0 0 20 16" preserveAspectRatio="none" fill="#262626"><g fill="none" stroke="#262626" stroke-width="1.5" stroke-linejoin="round"><path d="M2.5 0.75 H17.5 L19.25 10.6 H0.75 Z M1.6 5.7 H18.4 M7.5 0.75 L7 10.6 M12.5 0.75 L13 10.6"/></g><rect x="9.1" y="10.6" width="1.8" height="3.6"/><rect x="5.6" y="13.8" width="8.8" height="2.2" rx="1"/></svg>
<span class="t" style="left:604.0px;top:937.0px;font-size:15.84px;color:#262626;transform:scaleX(0.771);">PV</span>
<svg class="i" style="left:636.9px;top:938.3px;width:13.8px;height:14.0px;" viewBox="0 0 14 14" preserveAspectRatio="none" fill="#e2ad2a"><g fill="none" stroke="#e2ad2a"><circle cx="7" cy="7" r="6.1" stroke-width="1.8"/><circle cx="7" cy="7" r="3.4" stroke-width="1.5"/></g><circle cx="7" cy="7" r="1.3"/></svg>
<span class="t" style="left:654.0px;top:937.0px;font-size:15.84px;color:#e2ad2a;transform:scaleX(0.892);">Zielladen</span>
<svg class="i" style="left:727.6px;top:937.3px;width:14.4px;height:16.0px;" viewBox="0 0 15 16" preserveAspectRatio="none" fill="#f07a28"><ellipse cx="10" cy="2.6" rx="4.8" ry="2.3"/><path d="M5.2 2.6 V6.5 A4.8 2.3 0 0 0 14.8 6.5 V2.6 Z"/><path d="M0 7.6 A5.2 2.4 0 0 1 10.4 7.6 V13.6 A5.2 2.4 0 0 1 0 13.6 Z" stroke="#333" stroke-width="0.8"/><path fill="none" stroke="#333" stroke-width="0.8" d="M0 10.2 A5.2 2.4 0 0 0 10.4 10.2 M0 12.6 A5.2 2.4 0 0 0 10.4 12.6 M0 7.9 A5.2 2.4 0 0 0 10.4 7.9 M10.4 5.5 A4.8 2.3 0 0 0 14.8 4.5"/></svg>
<span class="t" style="left:745.0px;top:937.0px;font-size:15.84px;color:#f07a28;transform:scaleX(0.812);">Eco</span>
<svg class="i" style="left:783.4px;top:937.7px;width:13.8px;height:13.3px;" viewBox="0 0 14 14.5" preserveAspectRatio="none" fill="#fff"><g fill="none" stroke="#fff" stroke-width="1.9" stroke-linecap="round"><path d="M3.6 3.2 A6 6 0 1 0 10.4 3.2"/><path d="M7 1 V7.2"/></g></svg>
<span class="t" style="left:800.3px;top:937.0px;font-size:15.84px;color:#fff;transform:scaleX(0.894);">Stop</span>
<span class="t" style="left:488.2px;top:988.0px;font-size:17.44px;color:#a8a8a8;transform:scaleX(0.929);">letzte Ladung:</span>
<span class="t" style="left:610.8px;top:988.0px;font-size:17.44px;color:#a8a8a8;transform:scaleX(0.892);">gel. Reichw.:</span>
<span class="t" style="left:513.0px;top:1015.0px;font-size:22.53px;font-weight:bold;color:#fff;transform:scaleX(0.951);">0 Wh</span>
<span class="t" style="left:630.1px;top:1015.0px;font-size:22.53px;font-weight:bold;color:#fff;transform:scaleX(0.944);">0 km</span>
<svg class="i" style="left:914.9px;top:719.8px;width:26.1px;height:19.2px;" viewBox="0 0 26 19.2" preserveAspectRatio="none" fill="#d8a532"><path d="M4 0.2 Q4 0 4.3 0 H10 Q10.3 0 10.3 0.3 V2.1 H15.3 V0.3 Q15.3 0 15.6 0 H21.3 Q21.6 0 21.6 0.3 V2.1 H23.3 Q26 2.1 26 4.8 V16.5 Q26 19.2 23.3 19.2 H2.7 Q0 19.2 0 16.5 V4.8 Q0 2.1 2.7 2.1 H4 Z"/><rect x="4.1" y="8.2" width="6" height="1.5" fill="#333"/><rect x="15.3" y="8.2" width="6.6" height="1.5" fill="#333"/><rect x="17.85" y="5.6" width="1.5" height="6.7" fill="#333"/></svg>
<span class="t" style="left:955.2px;top:716.0px;font-size:26.45px;font-weight:bold;color:#fff;transform:scaleX(0.927);">Speicher</span>
<div class="b" style="left:1176px;top:718.4px;width:122.5px;height:23.6px;background:#3a9d35;border-radius:12px"></div>
<span class="t" style="left:1184.5px;top:722.0px;font-size:17.15px;color:#2a2f2a;transform:scaleX(0.938);">Liefert (648 W)</span>
<span class="t" style="left:915.3px;top:782.0px;font-size:17.44px;color:#a8a8a8;transform:scaleX(0.899);">Ladestand:</span>
<span class="t" style="left:1077.8px;top:782.0px;font-size:17.44px;color:#a8a8a8;transform:scaleX(0.878);">Geladen:</span>
<span class="t" style="left:1226.5px;top:782.0px;font-size:17.44px;color:#a8a8a8;transform:scaleX(0.963);">Geliefert</span>
<svg class="i" style="left:916.7px;top:809.6px;width:25.4px;height:14.5px;" viewBox="0 0 23.4 14" preserveAspectRatio="none" fill="#d8a532"><rect x="1" y="1" width="19.6" height="12" rx="2.2" fill="none" stroke="#d8a532" stroke-width="2"/><rect x="3.6" y="3.6" width="14.4" height="6.8" fill="#d8a532"/><rect x="21" y="4.3" width="2.4" height="5.4" rx="0.8"/></svg>
<span class="t" style="left:946.0px;top:807.0px;font-size:23.26px;font-weight:bold;color:#fff;transform:scaleX(0.967);">97%</span>
<span class="t" style="left:1068.0px;top:807.0px;font-size:23.26px;font-weight:bold;color:#fff;transform:scaleX(0.931);">6,7 kWh</span>
<span class="t" style="left:1217.3px;top:807.0px;font-size:23.26px;font-weight:bold;color:#fff;transform:scaleX(0.924);">3,0 kWh</span>
<span class="t" style="left:923.0px;top:854.0px;font-size:18.90px;font-weight:bold;color:#d8a532;transform:scaleX(0.963);">Sungrow SBR128</span>
<div class="b" style="left:1188px;top:850.2px;width:122.8px;height:23.6px;background:#3a9d35;border-radius:12px"></div>
<span class="t" style="left:1196.8px;top:854.0px;font-size:17.15px;color:#2a2f2a;transform:scaleX(0.929);">Liefert (653 W)</span>
<span class="t" style="left:923.6px;top:884.0px;font-size:17.44px;color:#a8a8a8;transform:scaleX(0.899);">Ladestand:</span>
<span class="t" style="left:1077.8px;top:884.0px;font-size:17.44px;color:#a8a8a8;transform:scaleX(0.878);">Geladen:</span>
<span class="t" style="left:1244.9px;top:884.0px;font-size:17.44px;color:#a8a8a8;transform:scaleX(0.932);">Geliefert:</span>
<svg class="i" style="left:934.6px;top:910.9px;width:18.6px;height:10.2px;" viewBox="0 0 23.4 14" preserveAspectRatio="none" fill="#a8a8a8"><rect x="1" y="1" width="19.6" height="12" rx="2.2" fill="none" stroke="#a8a8a8" stroke-width="2"/><rect x="3.6" y="3.6" width="14.4" height="6.8" fill="#a8a8a8"/><rect x="21" y="4.3" width="2.4" height="5.4" rx="0.8"/></svg>
<span class="t" style="left:956.7px;top:907.0px;font-size:17.44px;font-weight:bold;color:#fff;transform:scaleX(0.926);">97%</span>
<span class="t" style="left:1079.3px;top:907.0px;font-size:17.44px;font-weight:bold;color:#fff;transform:scaleX(0.893);">6,7 kWh</span>
<span class="t" style="left:1248.6px;top:907.0px;font-size:17.44px;font-weight:bold;color:#fff;transform:scaleX(0.886);">3,0 kWh</span>
<svg class="i" style="left:480.7px;top:1133.5px;width:19.3px;height:25.7px;" viewBox="0 0 17.4 23" preserveAspectRatio="none" fill="#f57d2c"><rect x="2.9" y="0" width="3.2" height="6.4" rx="1"/><rect x="11.3" y="0" width="3.3" height="6.4" rx="1"/><rect x="0" y="6.8" width="17.4" height="2.8" rx="1.2"/><path d="M1.5 9 H15.9 V11.2 C15.9 15.3 12.8 17.8 8.7 17.8 C4.6 17.8 1.5 15.3 1.5 11.2 Z"/><rect x="6.9" y="16" width="3.5" height="7" rx="0.9"/></svg>
<span class="t" style="left:514.4px;top:1133.0px;font-size:26.45px;font-weight:bold;color:#dcdcdc;transform:scaleX(0.958);">Geräte</span>
<svg class="i" style="left:859.7px;top:1141.0px;width:4.8px;height:16.6px;" viewBox="0 0 4.6 17.4" preserveAspectRatio="none" fill="#aaa"><circle cx="2.3" cy="2.3" r="2.3"/><circle cx="2.3" cy="8.7" r="2.3"/><circle cx="2.3" cy="15.1" r="2.3"/></svg>
<span class="t" style="left:465.6px;top:1207.0px;font-size:18.75px;font-weight:bold;color:#fd9144;transform:scaleX(1.005);">IDMAeroSLM</span>
<span class="t" style="left:464.6px;top:1234.0px;font-size:17.44px;color:#a8a8a8;transform:scaleX(0.916);">Leistung:</span>
<span class="t" style="left:638.0px;top:1234.0px;font-size:17.44px;color:#a8a8a8;transform:scaleX(0.900);">Energie:</span>
<span class="t" style="left:814.7px;top:1234.0px;font-size:17.44px;color:#a8a8a8;transform:scaleX(0.925);">Laufzeit:</span>
<span class="t" style="left:478.4px;top:1258.0px;font-size:17.44px;font-weight:bold;color:#fff;transform:scaleX(0.899);">39 W</span>
<span class="t" style="left:648.7px;top:1258.0px;font-size:17.44px;font-weight:bold;color:#fff;transform:scaleX(0.885);">0 Wh</span>
<span class="t" style="left:814.0px;top:1258.0px;font-size:17.44px;font-weight:bold;color:#fff;transform:scaleX(0.882);">4h 5 min</span>
<span class="t" style="left:467.0px;top:1304.0px;font-size:18.75px;font-weight:bold;color:#fd9144;transform:scaleX(0.882);">Sonnenschein</span>
<div class="b" style="left:789px;top:1303px;width:22px;height:20px;border:2.5px solid #c8282a;border-radius:7px"></div>
<div class="b" style="left:826px;top:1301px;width:50px;height:24px;background:#a9a9a9;border-radius:12px"></div>
</body></html>
